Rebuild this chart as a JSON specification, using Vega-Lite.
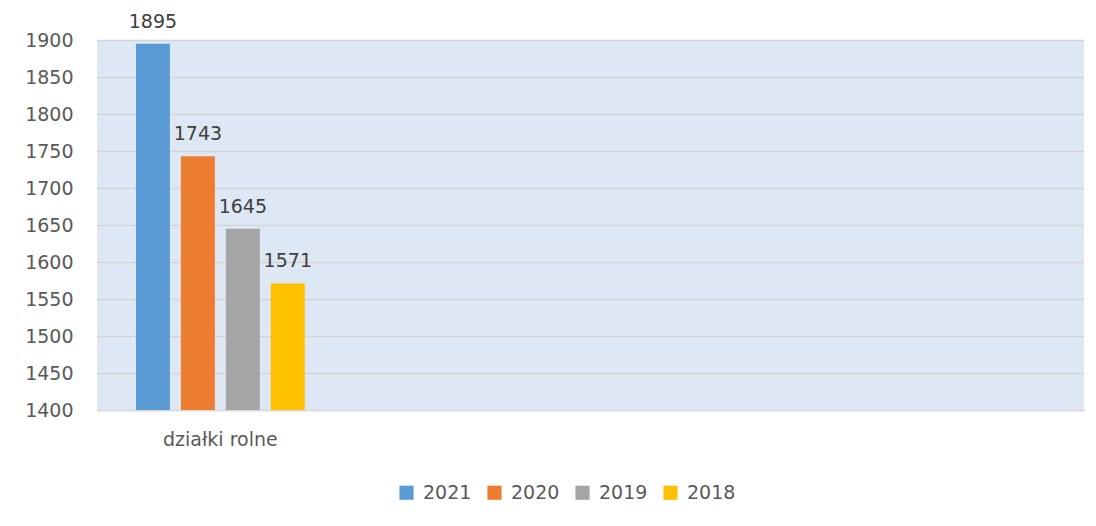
{
  "$schema": "https://vega.github.io/schema/vega-lite/v6.json",
  "width": 987,
  "height": 370,
  "autosize": {"type": "none"},
  "padding": {"left": 97, "top": 40, "right": 12, "bottom": 116},
  "background": "#ffffff",
  "config": {
    "view": {"fill": "#dee8f4", "stroke": null},
    "font": "DejaVu Sans"
  },
  "data": {
    "values": [
      {"kategoria": "działki rolne", "rok": "2021", "liczba": 1895},
      {"kategoria": "działki rolne", "rok": "2020", "liczba": 1743},
      {"kategoria": "działki rolne", "rok": "2019", "liczba": 1645},
      {"kategoria": "działki rolne", "rok": "2018", "liczba": 1571}
    ]
  },
  "encoding": {
    "x": {
      "field": "kategoria",
      "type": "nominal",
      "scale": {"domain": ["działki rolne", " ", "  ", "   "], "paddingInner": 0, "paddingOuter": 0},
      "axis": {
        "title": null,
        "labelAngle": 0,
        "ticks": false,
        "labelPadding": 20,
        "labelFontSize": 19,
        "labelColor": "#595959",
        "domainColor": "#d9d9d9",
        "domainWidth": 1.5
      }
    },
    "xOffset": {
      "field": "rok",
      "type": "nominal",
      "sort": ["2021", "2020", "2019", "2018"],
      "scale": {"paddingInner": 0.244, "paddingOuter": 0.867}
    },
    "y": {
      "field": "liczba",
      "type": "quantitative",
      "scale": {"domain": [1400, 1900], "zero": false, "clamp": true},
      "axis": {
        "title": null,
        "format": "d",
        "values": [1400, 1450, 1500, 1550, 1600, 1650, 1700, 1750, 1800, 1850, 1900],
        "ticks": false,
        "domain": false,
        "labelPadding": 24,
        "labelFontSize": 19,
        "labelColor": "#595959",
        "gridColor": "#d4d4d4",
        "gridWidth": 1.5
      }
    }
  },
  "layer": [
    {
      "mark": {"type": "bar"},
      "encoding": {
        "color": {
          "field": "rok",
          "type": "nominal",
          "scale": {
            "domain": ["2021", "2020", "2019", "2018"],
            "range": ["#5b9bd5", "#ed7d31", "#a5a5a5", "#ffc000"]
          },
          "legend": {
            "title": null,
            "orient": "none",
            "direction": "horizontal",
            "legendX": 300,
            "legendY": 443,
            "symbolType": "square",
            "symbolSize": 200,
            "symbolStrokeWidth": 0,
            "labelFontSize": 19,
            "labelColor": "#595959",
            "labelOffset": 7,
            "columnPadding": 13
          }
        }
      }
    },
    {
      "mark": {"type": "text", "baseline": "alphabetic", "dy": -16, "fontSize": 19, "color": "#404040"},
      "encoding": {
        "text": {"field": "liczba", "type": "quantitative", "format": "d"}
      }
    }
  ]
}
